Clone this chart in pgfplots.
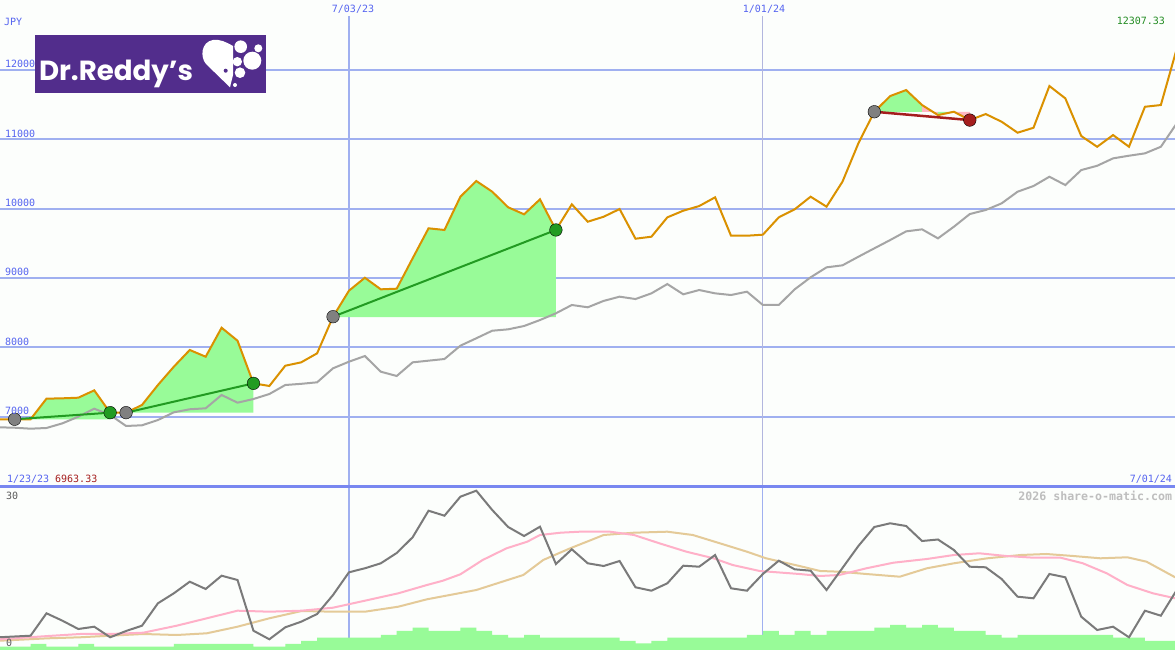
\documentclass[border=0pt]{standalone}
\usepackage{fontspec}
\usepackage{graphicx}
\usepackage{pgfplots}
\pgfplotsset{compat=1.18}
\setmonofont{DejaVu Sans Mono}
\newfontfamily\logofont{Poppins}
\definecolor{bgcol}{RGB}{252,254,252}
\definecolor{gridblue}{RGB}{160,176,240}
\definecolor{sepblue}{RGB}{120,135,240}
\definecolor{vgray}{RGB}{178,182,222}
\definecolor{orangeline}{RGB}{218,145,0}
\definecolor{grayline}{RGB}{165,165,165}
\definecolor{fillgreen}{RGB}{152,251,152}
\definecolor{fillpink}{RGB}{255,182,193}
\definecolor{tradegreen}{RGB}{34,155,34}
\definecolor{tradered}{RGB}{165,30,30}
\definecolor{markgray}{RGB}{128,128,128}
\definecolor{inddark}{RGB}{122,122,122}
\definecolor{indpink}{RGB}{255,176,200}
\definecolor{indtan}{RGB}{228,202,152}
\definecolor{textblue}{RGB}{85,100,240}
\definecolor{textred}{RGB}{165,30,30}
\definecolor{textgreen}{RGB}{34,140,34}
\definecolor{labgray}{RGB}{90,90,90}
\definecolor{wmgray}{RGB}{190,190,190}
\definecolor{logopurple}{RGB}{82,45,140}
\begin{document}
\begin{tikzpicture}[every node/.style={inner sep=0pt, outer sep=0pt}, font=\ttfamily\fontsize{10bp}{12bp}\selectfont]
\fill[bgcol] (0bp,0bp) rectangle (1175bp,650bp);
\useasboundingbox (0bp,0bp) rectangle (1175bp,650bp);

% ---------------- main price panel ----------------
\begin{axis}[at={(0bp,163bp)}, anchor=south west, scale only axis,
  width=1175bp, height=487bp, xmin=1.08, xmax=74.89, ymin=5986, ymax=13010,
  axis line style={draw=none}, xtick=\empty, ytick=\empty]
\pgfplotsinvokeforeach{7000,8000,9000,10000,11000,12000}{
  \draw[gridblue, line width=2bp] (axis cs:1.08,#1) -- (axis cs:74.89,#1);}
\draw[gridblue, line width=2bp] (axis cs:23,5986) -- (axis cs:23,12778);
\draw[vgray, line width=1.2bp] (axis cs:49,5986) -- (axis cs:49,12778);
% trade areas
\addplot[fill=fillgreen, draw=none] coordinates {(2,6963) (3,6963) (4,7260) (5,7265) (6,7274) (7,7380) (8,7058) (8,6963)};
\addplot[fill=fillgreen, draw=none] coordinates {(9,7058) (10,7169) (11,7457) (12,7721) (13,7962) (14,7865) (15,8283) (16,8096) (17,7481) (17,7058)};
\addplot[fill=fillgreen, draw=none] coordinates {(22,8435) (23,8817) (24,9004) (25,8837) (26,8846) (27,9284) (28,9717) (29,9693) (30,10173) (31,10399) (32,10245) (33,10020) (34,9919) (35,10135) (36,9693) (36,8435)};
\addplot[fill=fillgreen, draw=none] coordinates {(56,11398) (57,11625) (58,11711) (59,11495) (59,11398)};
\addplot[fill=fillpink, draw=none] coordinates {(59,11398) (59,11495) (60,11350) (60,11398)};
\addplot[fill=fillgreen, draw=none] coordinates {(60,11398) (60,11350) (61,11398)};
\addplot[fill=fillpink, draw=none] coordinates {(61,11398) (62,11278) (62,11398)};
% benchmark
\addplot[grayline, line width=2bp] coordinates {(1,6847) (2,6841) (3,6827) (4,6837) (5,6904) (6,7000) (7,7115) (8,7025) (9,6866) (10,6876) (11,6952) (12,7063) (13,7107) (14,7121) (15,7313) (16,7202) (17,7255) (18,7327) (19,7457) (20,7474) (21,7496) (22,7698) (23,7793) (24,7875) (25,7649) (26,7587) (27,7784) (28,7808) (29,7832) (30,8024) (31,8131) (32,8240) (33,8260) (34,8308) (35,8394) (36,8491) (37,8611) (38,8578) (39,8670) (40,8731) (41,8697) (42,8779) (43,8913) (44,8765) (45,8827) (46,8779) (47,8755) (48,8803) (49,8611) (50,8611) (51,8837) (52,9010) (53,9154) (54,9183) (55,9307) (56,9428) (57,9548) (58,9673) (59,9702) (60,9572) (61,9740) (62,9923) (63,9981) (64,10077) (65,10245) (66,10327) (67,10461) (68,10341) (69,10557) (70,10619) (71,10726) (72,10764) (73,10798) (74,10893) (75,11231)};
% price
\addplot[orangeline, line width=2bp] coordinates {(1,6963) (2,6963) (3,6963) (4,7260) (5,7265) (6,7274) (7,7380) (8,7058) (9,7058) (10,7169) (11,7457) (12,7721) (13,7962) (14,7865) (15,8283) (16,8096) (17,7481) (18,7443) (19,7735) (20,7784) (21,7914) (22,8442) (23,8817) (24,9004) (25,8837) (26,8846) (27,9284) (28,9717) (29,9693) (30,10173) (31,10399) (32,10245) (33,10020) (34,9919) (35,10135) (36,9693) (37,10063) (38,9812) (39,9884) (40,9995) (41,9567) (42,9596) (43,9875) (44,9971) (45,10038) (46,10164) (47,9610) (48,9610) (49,9625) (50,9875) (51,9991) (52,10173) (53,10029) (54,10389) (55,10942) (56,11398) (57,11625) (58,11711) (59,11495) (60,11350) (61,11398) (62,11278) (63,11365) (64,11254) (65,11096) (66,11167) (67,11769) (68,11591) (69,11048) (70,10893) (71,11062) (72,10893) (73,11470) (74,11495) (75,12307)};
% trades
\addplot[tradegreen, line width=2bp] coordinates {(2,6963) (8,7058)};
\addplot[tradegreen, line width=2bp] coordinates {(9,7058) (17,7481)};
\addplot[tradegreen, line width=2bp] coordinates {(22,8442) (36,9693)};
\addplot[tradered, line width=2.5bp] coordinates {(56,11398) (62,11278)};
\addplot[only marks, mark=*, mark size=6.3bp, mark options={draw=none, fill=markgray}] coordinates {(2,6963) (9,7058) (22,8442) (56,11398)};
\addplot[only marks, mark=*, mark size=6.3bp, mark options={draw=none, fill=tradegreen}] coordinates {(8,7058) (17,7481) (36,9693)};
\addplot[only marks, mark=*, mark size=6.3bp, mark options={draw=none, fill=tradered}] coordinates {(62,11278)};
\end{axis}

% ---------------- indicator panel ----------------
\begin{axis}[at={(0bp,0bp)}, anchor=south west, scale only axis,
  width=1175bp, height=163bp, xmin=1.08, xmax=74.89, ymin=-1, ymax=31.6,
  axis line style={draw=none}, xtick=\empty, ytick=\empty]
\draw[gridblue, line width=2bp] (axis cs:23,-1) -- (axis cs:23,31.6);
\draw[gridblue, line width=1.2bp] (axis cs:49,-1) -- (axis cs:49,31.6);
\addplot[const plot mark left, fill=fillgreen, draw=none] coordinates {(1,-1) (1,-0.34) (3,0.2) (4,-0.34) (6,0.2) (7,-0.34) (12,0.2) (17,-0.34) (19,0.2) (20,0.8) (21,1.46) (25,2.0) (26,2.8) (27,3.46) (28,2.8) (30,3.46) (31,2.8) (32,2.0) (33,1.46) (34,2.0) (35,1.46) (40,0.8) (41,0.34) (42,0.8) (43,1.46) (48,2.0) (49,2.8) (50,2.0) (51,2.8) (52,2.0) (53,2.8) (56,3.46) (57,4.0) (58,3.46) (59,4.0) (60,3.46) (61,2.8) (63,2.0) (64,1.46) (65,2.0) (71,1.46) (73,0.8) (76,0.8) (76,-1)};
\addplot[indtan, line width=2bp] coordinates {(1.08,0.86) (4.11,1.34) (6.11,1.54) (8,1.86) (10.08,2.2) (12.18,2.0) (14.07,2.34) (16,3.66) (18,5.34) (20.03,6.8) (22,6.66) (24,6.66) (26.1,7.66) (27.9,9.14) (31,11.0) (33.95,14.0) (35.2,17.0) (36.9,19.34) (39,22.0) (40.9,22.46) (43,22.66) (44.6,22.0) (46.3,20.34) (48,18.66) (49.2,17.34) (51.3,15.8) (52.6,14.8) (53.8,14.66) (55.5,14.2) (57.6,13.66) (59.3,15.34) (61,16.34) (63.1,17.34) (65.2,18.0) (66.8,18.2) (68.5,17.8) (70.2,17.34) (71.9,17.54) (73.1,16.66) (74.9,13.54)};
\addplot[indpink, line width=2bp] coordinates {(1.08,1.14) (4.11,1.8) (6.11,2.2) (8,2.2) (10.08,2.46) (12.18,3.86) (14.07,5.34) (16,6.86) (18,6.66) (20.03,6.86) (22,7.46) (24,8.86) (26.1,10.34) (27.9,12.0) (28.9,12.86) (30,14.14) (31.4,17.0) (32.9,19.34) (34.2,20.66) (35,22.0) (36.3,22.46) (37.5,22.66) (39.4,22.66) (40.9,22.0) (42.5,20.34) (44.2,18.66) (45.9,17.34) (47.1,16.0) (48.8,14.8) (51.3,14.2) (52.6,13.8) (53.8,14.0) (55.5,15.34) (57.2,16.46) (59.3,17.2) (61,18.0) (62.6,18.34) (64.3,17.8) (66,17.46) (67.7,17.46) (69.1,16.34) (70.6,14.34) (71.9,12.0) (73.5,10.34) (74.9,9.34)};
\addplot[inddark, line width=2bp] coordinates {(1,1.54) (2,1.7) (3,1.86) (4,6.34) (5,4.86) (6,3.2) (7,3.66) (8,1.54) (9,2.8) (10,3.86) (11,8.34) (12,10.34) (13,12.66) (14,11.2) (15,13.86) (16,13.0) (17,2.86) (18,1.14) (19,3.54) (20,4.66) (21,6.2) (22,10.0) (23,14.54) (24,15.34) (25,16.34) (26,18.4) (27,21.54) (28,26.86) (29,25.86) (30,29.66) (31,30.86) (32,27.0) (33,23.6) (34,21.8) (35,23.66) (36,16.2) (37,19.14) (38,16.34) (39,15.8) (40,16.8) (41,11.54) (42,10.86) (43,12.34) (44,15.86) (45,15.66) (46,18.0) (47,11.34) (48,10.86) (49,14.2) (50,16.86) (51,15.14) (52,14.86) (53,11.0) (54,15.4) (55,19.8) (56,23.6) (57,24.34) (58,23.8) (59,20.8) (60,21.1) (61,19.0) (62,15.66) (63,15.54) (64,13.2) (65,9.66) (66,9.34) (67,14.2) (68,13.54) (69,5.66) (70,3.0) (71,3.66) (72,1.54) (73,6.86) (74,5.86) (75,11.0)};
\end{axis}

% separator
\draw[sepblue, line width=2.5bp] (0bp,163.5bp) -- (1175bp,163.5bp);

% labels
\node[anchor=west, text=textblue] at (4bp,628.5bp) {JPY};
\node[text=textblue] at (353bp,641bp) {7/03/23};
\node[text=textblue] at (764bp,641bp) {1/01/24};
\node[anchor=east, text=textgreen] at (1165bp,629bp) {12307.33};
\node[anchor=west, text=textblue] at (5bp,585.7bp) {12000};
\node[anchor=west, text=textblue] at (5bp,516.4bp) {11000};
\node[anchor=west, text=textblue] at (5bp,447bp) {10000};
\node[anchor=west, text=textblue] at (5bp,377.7bp) {9000};
\node[anchor=west, text=textblue] at (5bp,308.4bp) {8000};
\node[anchor=west, text=textblue] at (5bp,239bp) {7000};
\node[anchor=west] at (7bp,171bp) {\textcolor{textblue}{1/23/23} \textcolor{textred}{6963.33}};
\node[anchor=east, text=textblue] at (1172bp,171bp) {7/01/24};
\node[anchor=west, text=labgray] at (6bp,154bp) {30};
\node[anchor=west, text=labgray] at (6bp,7.5bp) {0};
\node[anchor=east, text=wmgray] at (1172bp,154bp) {\fontsize{11.6bp}{13bp}\selectfont\bfseries 2026 share-o-matic.com};

% logo
\fill[logopurple] (35bp,557.3bp) rectangle (265.7bp,615bp);
\node[anchor=base west, text=white] at (39bp,569bp) {\resizebox{154bp}{!}{\logofont\bfseries Dr.Reddy’s}};
\fill[white] (230bp,562.7bp) -- (206bp,586bp) .. controls (200bp,593bp) and (201bp,608bp) .. (213bp,610bp) .. controls (220bp,611bp) and (226bp,608bp) .. (233bp,604bp) -- (233bp,575bp) -- cycle;
\fill[logopurple] (225.7bp,579.3bp) circle (2bp);
\fill[white] (240.7bp,603.3bp) circle (6.3bp);
\fill[white] (258.3bp,601.7bp) circle (4bp);
\fill[white] (252.3bp,589.3bp) circle (9bp);
\fill[white] (237.3bp,588.3bp) circle (4.7bp);
\fill[white] (240bp,577.3bp) circle (5.3bp);
\fill[white] (235bp,565bp) circle (2bp);
\end{tikzpicture}
\end{document}
